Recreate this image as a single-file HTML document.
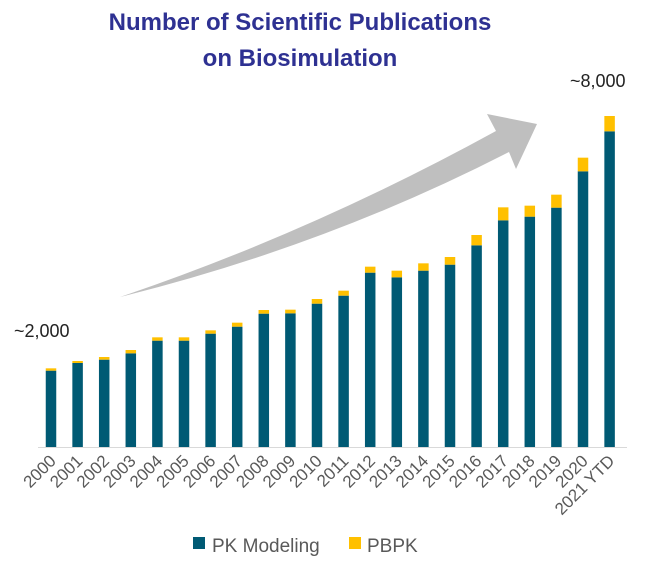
<!DOCTYPE html>
<html><head><meta charset="utf-8"><style>
body{margin:0;background:#fff;}
svg{display:block;font-family:"Liberation Sans",sans-serif;}
</style></head><body>
<svg id="chart" width="650" height="570">
<text x="300" y="30" text-anchor="middle" font-size="24" font-weight="bold" fill="#2e3192">Number of Scientific Publications</text>
<text x="300" y="66" text-anchor="middle" font-size="24" font-weight="bold" fill="#2e3192">on Biosimulation</text>
<path d="M120,297 Q312,232 496,131 L487,114 L537,124 L516,169 L509,152 Q326,246 120,297 Z" fill="#bfbfbf"/>
<text x="14" y="337" font-size="18" fill="#222">~2,000</text>
<text x="570" y="87" font-size="18" fill="#222">~8,000</text>
<line x1="38" y1="447.5" x2="627" y2="447.5" stroke="#d9d9d9" stroke-width="1"/>
<g id="bars"></g>
<g id="xlabels"></g>
<rect x="193" y="537" width="12" height="12" fill="#005a74"/>
<text x="212" y="552" font-size="19" fill="#595959">PK Modeling</text>
<rect x="349" y="537" width="12" height="12" fill="#ffc000"/>
<text x="367" y="552" font-size="19" fill="#595959">PBPK</text>
</svg>
<script>
const categories = ["2000","2001","2002","2003","2004","2005","2006","2007","2008","2009","2010","2011","2012","2013","2014","2015","2016","2017","2018","2019","2020","2021 YTD"];
const pkValues = [1832,2016,2096,2248,2552,2552,2720,2888,3200,3208,3440,3632,4184,4072,4232,4376,4840,5440,5528,5744,6616,7576];
const pbpkValues = [56,48,64,80,80,80,80,96,88,88,112,120,144,160,176,184,248,312,264,312,328,368];
const NS = "http://www.w3.org/2000/svg";
const baseY = 447, x0 = 51, step = 26.6, barW = 10.5;
function yScale(v){ return v/24; }
function xScale(i){ return x0 + i*step; }
const bars = document.getElementById('bars');
const labels = document.getElementById('xlabels');
categories.forEach((c,i)=>{
  const cx = xScale(i);
  const hPk = yScale(pkValues[i]);
  const hPb = yScale(pbpkValues[i]);
  const r1 = document.createElementNS(NS,'rect');
  r1.setAttribute('x', cx-barW/2); r1.setAttribute('y', baseY-hPk);
  r1.setAttribute('width', barW); r1.setAttribute('height', hPk);
  r1.setAttribute('fill', '#005a74');
  
  
  bars.appendChild(r1);
  const r2 = document.createElementNS(NS,'rect');
  r2.setAttribute('x', cx-barW/2); r2.setAttribute('y', baseY-hPk-hPb);
  r2.setAttribute('width', barW); r2.setAttribute('height', hPb);
  r2.setAttribute('fill', '#ffc000');
  
  
  bars.appendChild(r2);
  const t = document.createElementNS(NS,'text');
  const lx = cx+6, ly = 462;
  t.setAttribute('x', lx); t.setAttribute('y', ly);
  t.setAttribute('text-anchor','end');
  t.setAttribute('font-size','17');
  t.setAttribute('fill','#595959');
  t.setAttribute('transform','rotate(-45 '+lx+' '+ly+')');
  t.textContent = c;
  
  
  labels.appendChild(t);
});
</script>
</body></html>
